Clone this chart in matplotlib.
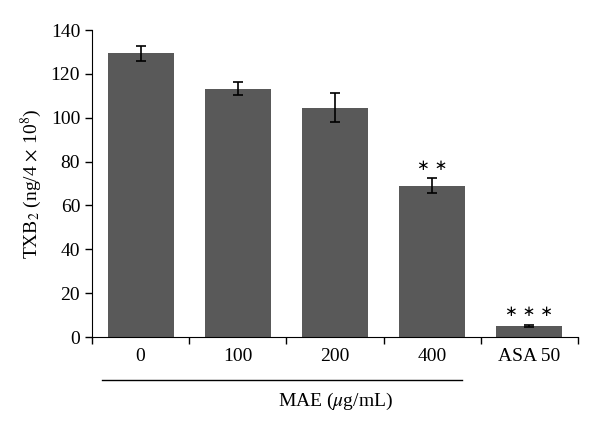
import matplotlib
matplotlib.use("Agg")
import matplotlib.pyplot as plt
import numpy as np

categories = ["0", "100", "200", "400", "ASA 50"]
values = [129.3, 113.2, 104.6, 68.9, 5.0]
errors = [3.6, 2.9, 6.7, 3.4, 0.6]
marks = ["", "", "", "∗ ∗", "∗ ∗ ∗"]
yticks = [0, 20, 40, 60, 80, 100, 120, 140]

plt.rcParams['font.family'] = ['Liberation Serif', 'DejaVu Serif']
plt.rcParams['mathtext.fontset'] = 'stix'

fig = plt.figure(figsize=(6, 4.34), dpi=100)
ax = fig.add_axes([92/600, 1-337/434, (578-92)/600, (337-30)/434])

x = np.arange(len(categories))
ax.bar(x, values, width=0.68, color='#595959', zorder=2)
ax.errorbar(x, values, yerr=errors, fmt='none', ecolor='black', elinewidth=1.2,
            capsize=3.5, capthick=1.2, zorder=3)
for xi, v, e, m in zip(x, values, errors, marks):
    if m:
        ax.text(xi, v + e + 2.5, m, ha='center', va='bottom', fontsize=11,
                family=['DejaVu Sans'])

ax.set_xlim(-0.5, len(categories) - 0.5)
ax.set_ylim(0, 140)
ax.set_yticks(yticks)
ax.tick_params(axis='y', direction='out', length=5, labelsize=14, width=1)
ax.set_xticks(np.arange(len(categories) + 1) - 0.5)
ax.set_xticklabels([])
ax.set_xticks(x, minor=True)
ax.set_xticklabels(categories, minor=True)
ax.tick_params(axis='x', which='major', direction='out', length=5, width=1)
ax.tick_params(axis='x', which='minor', length=0, labelsize=14, pad=8)
for s in ['top', 'right']:
    ax.spines[s].set_visible(False)
ax.set_ylabel(r'TXB$_2$ (ng/4 $\times$ 10$^8$)', fontsize=14, labelpad=5)

fig.add_artist(plt.Line2D([102/600, 462/600], [1-380/434, 1-380/434], color='black', lw=1))
fig.text(335/600, 1-401/434, r'MAE ($\mu$g/mL)', ha='center', va='center', fontsize=14)

fig.savefig('out.png', dpi=100)
